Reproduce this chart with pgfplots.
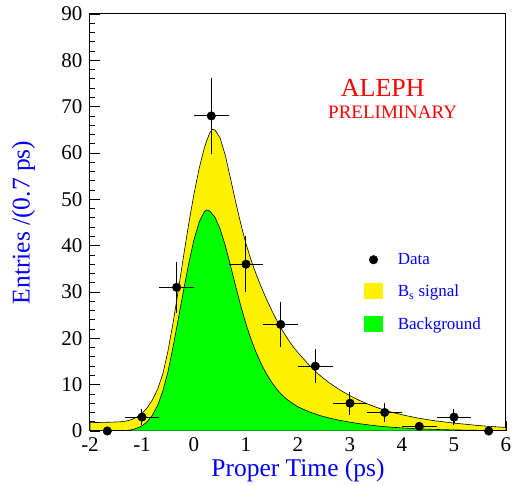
\documentclass[border=0pt]{standalone}
\usepackage{fontspec}
\setmainfont{Liberation Serif}
\usepackage{pgfplots}
\pgfplotsset{compat=1.18}
\begin{document}
\begin{tikzpicture}
\begin{axis}[
  at={(0,0)}, anchor=south west,
  scale only axis, width=416pt, height=417pt,
  xmin=-2, xmax=6, ymin=0, ymax=90,
  xtick={-2,-1,0,1,2,3,4,5,6}, ytick={0,10,20,30,40,50,60,70,80,90},
  minor x tick num=4, minor y tick num=4,
  tick align=inside, xtick pos=bottom, ytick pos=left,
  major tick length=10pt, minor tick length=5pt,
  every tick/.style={black, line width=0.8pt},
  axis line style={line width=1pt},
  /pgf/number format/assume math mode=true,
  tick label style={font=\fontsize{21}{21}\selectfont},
  xticklabel style={yshift=-3pt},
  yticklabel style={xshift=-4pt},
  xlabel={Proper Time (ps)}, ylabel={Entries /(0.7 ps)},
  label style={font=\fontsize{25.5}{25.5}\selectfont, text=blue},
  xlabel style={at={(axis description cs:0.5,-0.094)}, anchor=center},
  ylabel style={at={(axis description cs:-0.16,0.5)}, anchor=center},
  legend style={draw=none, fill=none, inner sep=0pt, at={(axis cs:3.27,38.8)}, anchor=north west,
    font=\fontsize{17}{17}\selectfont, text=blue, row sep=15pt, cells={anchor=west}},
  legend cell align=left,
]
\addlegendimage{legend image code/.code={\path (0pt,0pt) (31pt,0pt); \draw[black, only marks, mark=*, mark size=4.3pt] plot coordinates {(9pt,0pt)};}}
\addlegendentry{Data}

\addplot[fill=yellow, draw=black, line width=0.6pt,
  legend image code/.code={\path (0pt,0pt) (31pt,0pt); \fill[yellow] (0pt,-7pt) rectangle (18pt,8pt);}]
  table {
x y
-2.0 1.8
-1.8 1.85
-1.6 1.9
-1.4 2.0
-1.3 2.15
-1.2 2.45
-1.1 3.0
-1.0 3.8
-0.9 5.0
-0.8 6.7
-0.7 9.0
-0.6 12.3
-0.5 17.3
-0.4 23.5
-0.3 30.5
-0.2 37.8
-0.1 44.8
0.0 51.2
0.1 56.7
0.2 61.2
0.3 64.3
0.35 65.1
0.4 65.0
0.5 63.3
0.6 59.6
0.7 54.6
0.8 49.5
0.9 44.7
1.0 40.4
1.1 36.8
1.2 33.7
1.3 30.9
1.4 28.3
1.5 25.9
1.6 23.7
1.7 21.7
1.8 19.9
1.9 18.3
2.0 16.9
2.2 14.4
2.4 12.2
2.6 10.4
2.8 8.9
3.0 7.6
3.2 6.5
3.4 5.55
3.6 4.75
3.8 4.05
4.0 3.5
4.3 2.8
4.6 2.25
5.0 1.7
5.5 1.15
6.0 0.75
} \closedcycle;
\addlegendentry{B\textsubscript{s} signal}

\addplot[fill=green, draw=black, line width=0.6pt,
  legend image code/.code={\path (0pt,0pt) (31pt,0pt); \fill[green] (0pt,-7pt) rectangle (18pt,8pt);}]
  table {
x y
-2.0 0
-1.6 0
-1.4 0.03
-1.3 0.1
-1.2 0.25
-1.1 0.6
-1.0 1.1
-0.9 2.0
-0.8 3.4
-0.7 5.5
-0.6 8.6
-0.5 12.8
-0.4 18.3
-0.3 24.3
-0.2 30.4
-0.1 36.2
0.0 41.3
0.1 45.1
0.2 47.4
0.25 47.7
0.3 47.5
0.4 46.2
0.5 43.7
0.6 40.1
0.7 35.8
0.8 31.3
0.9 27.0
1.0 23.1
1.1 19.7
1.2 16.8
1.3 14.3
1.4 12.2
1.5 10.4
1.6 8.9
1.7 7.7
1.8 6.7
1.9 5.9
2.0 5.2
2.2 4.2
2.4 3.4
2.6 2.8
2.8 2.3
3.0 1.9
3.2 1.55
3.4 1.25
3.6 1.0
3.8 0.82
4.0 0.66
4.3 0.48
4.6 0.35
5.0 0.23
5.5 0.14
6.0 0.08
} \closedcycle;
\addlegendentry{Background}

\addplot[forget plot, only marks, mark=*, mark size=4.3pt, black,
  error bars/.cd, x dir=both, x explicit, y dir=both, y explicit,
  error bar style={line width=1pt, black}, error mark=none]
  table[x=x, y=y, x error=ex, y error=ey] {
x y ex ey
-1.667 0 0.333 0
-1.0 3 0.333 1.73
-0.333 31 0.333 5.57
0.333 68 0.333 8.25
1.0 36 0.333 6.0
1.667 23 0.333 4.80
2.333 14 0.333 3.74
3.0 6 0.333 2.45
3.667 4 0.333 2.0
4.333 1 0.333 1.0
5.0 3 0.333 1.73
5.667 0 0.333 0
};

\node[text=red, font=\fontsize{26}{26}\selectfont] at (axis cs:3.63,74) {ALEPH};
\node[text=red, font=\fontsize{19}{19}\selectfont] at (axis cs:3.82,68.9) {PRELIMINARY};
\end{axis}
\pgfresetboundingbox
\path (-90pt,-55pt) rectangle (422pt,431pt);
\end{tikzpicture}
\end{document}
